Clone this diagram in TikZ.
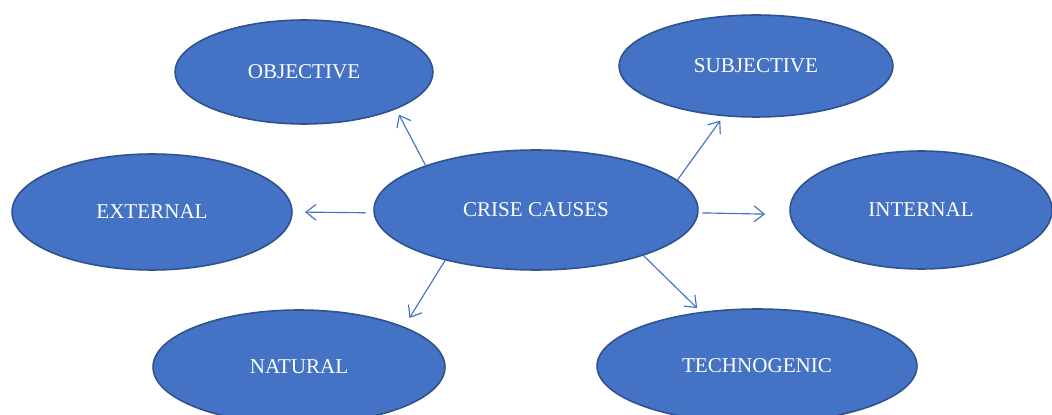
\documentclass[tikz,border=0pt]{standalone}
\usepackage{fontspec}
\setmainfont{Liberation Serif}
\usetikzlibrary{shapes.geometric,arrows.meta}
\definecolor{cause}{HTML}{4472C4}
\definecolor{causeline}{HTML}{2F528F}
\tikzset{
	cause/.style={ellipse, fill=cause, draw=causeline, line width=0.9pt, inner sep=0pt,
		text=white, font=\fontsize{12}{14}\selectfont},
	arr/.style={draw=cause, line width=0.65pt, -{Straight Barb[length=5.7pt,width=9pt]}}
}
\begin{document}
\begin{tikzpicture}[x=0.02cm,y=-0.02cm]
		\useasboundingbox (0,0) rectangle (1052,415);
		\clip (0,0) rectangle (1052,415);

		% Centre
		\node[cause, minimum width=6.48cm, minimum height=2.4cm] (crise) at (536,210) {CRISE CAUSES};

		% Top row
		\node[cause, minimum width=5.16cm, minimum height=2.08cm] (objective) at (304,72) {OBJECTIVE};
		\node[cause, minimum width=5.48cm, minimum height=2.04cm] (subjective) at (756,66) {SUBJECTIVE};

		% Middle row
		\node[cause, minimum width=5.6cm, minimum height=2.32cm] (external) at (152,212) {EXTERNAL};
		\node[cause, minimum width=5.24cm, minimum height=2.36cm] (internal) at (921,210) {INTERNAL};

		% Bottom row
		\node[cause, minimum width=5.84cm, minimum height=2.28cm] (natural) at (299,367) {NATURAL};
		\node[cause, minimum width=6.4cm, minimum height=2.28cm] (technogenic) at (757,366) {TECHNOGENIC};

		% Arrows
		\draw[arr, shorten >=3.5pt] (crise.158) -- (objective.338);
		\draw[arr, shorten >=3pt] (crise.12) -- (subjective.237);
		\draw[arr, shorten <=4.5pt, shorten >=7pt] (crise.181) -- (external.0);
		\draw[arr, shorten <=2pt, shorten >=14pt] (crise.359) -- (internal.182);
		\draw[arr, shorten >=5.8pt] (crise.209) -- (natural.21);
		\draw[arr, shorten >=3pt] (crise.337) -- (technogenic.136);
	\end{tikzpicture}
\end{document}
